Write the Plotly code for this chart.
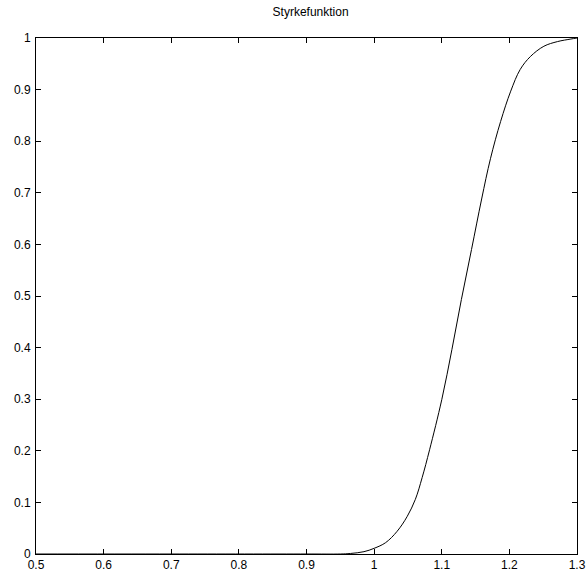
import plotly.graph_objects as go

# Values
x_vals = [0.5, 0.7, 0.9, 0.95, 0.965, 0.985, 1.0, 1.017, 1.034, 1.049, 1.061, 1.071,
          1.082, 1.1, 1.115, 1.129, 1.144, 1.159, 1.172, 1.187, 1.202, 1.216,
          1.231, 1.251, 1.271, 1.291, 1.3]
y_vals = [0.0, 0.0, 0.0, 0.0, 0.001, 0.0045, 0.011, 0.022, 0.044, 0.073, 0.106, 0.148,
          0.202, 0.299, 0.396, 0.493, 0.590, 0.688, 0.766, 0.838, 0.897, 0.939,
          0.964, 0.984, 0.993, 0.998, 1.0]

x_ticks = [0.5, 0.6, 0.7, 0.8, 0.9, 1.0, 1.1, 1.2, 1.3]
x_tick_labels = ["0.5", "0.6", "0.7", "0.8", "0.9", "1", "1.1", "1.2", "1.3"]
y_ticks = [0, 0.1, 0.2, 0.3, 0.4, 0.5, 0.6, 0.7, 0.8, 0.9, 1.0]
y_tick_labels = ["0", "0.1", "0.2", "0.3", "0.4", "0.5", "0.6", "0.7", "0.8", "0.9", "1"]
title_text = "Styrkefunktion"

fig = go.Figure()
fig.add_trace(go.Scatter(x=x_vals, y=y_vals, mode="lines",
                         line=dict(color="black", width=1, shape="spline", smoothing=1.0),
                         showlegend=False, hoverinfo="skip"))

axis_common = dict(showgrid=False, zeroline=False, showline=True, linecolor="black",
                   linewidth=1, mirror="ticks", ticks="inside", ticklen=5,
                   tickcolor="black", automargin=False, ticklabeloverflow="allow",
                   tickfont=dict(family="Liberation Sans, Arial", size=12, color="black"))

fig.update_layout(
    width=586, height=577,
    margin=dict(l=36, r=9, t=38, b=23),
    paper_bgcolor="white", plot_bgcolor="white",
    title=dict(text=title_text, x=0.53, xanchor="center", y=0.979, yanchor="middle",
               font=dict(family="Liberation Sans, Arial", size=12, color="black")),
    xaxis=dict(range=[0.5, 1.3], tickvals=x_ticks, ticktext=x_tick_labels, **axis_common),
    yaxis=dict(range=[0, 1], tickvals=y_ticks, ticktext=y_tick_labels, ticklabelstandoff=2, **axis_common),
)

fig.write_html("out.html", config={"displayModeBar": False},
               post_script="document.body.style.margin='0';document.body.style.overflow='hidden';")
